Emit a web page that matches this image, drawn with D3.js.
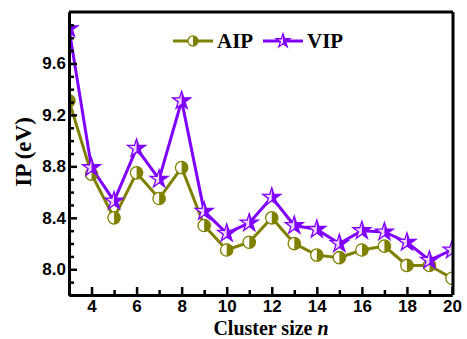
<!DOCTYPE html>
<html>
<head>
<meta charset="utf-8">
<script src="https://cdn.jsdelivr.net/npm/d3@7"></script>
<style>
  body { margin: 0; background: #fff; }
  svg { display: block; }
</style>
</head>
<body>
<script>
const w = 467; // width
const h = 339; // height
const m = {top: 12, right: 14, bottom: 44, left: 69};

// data
const sizes = [3, 4, 5, 6, 7, 8, 9, 10, 11, 12, 13, 14, 15, 16, 17, 18, 19, 20];
const aip = [9.31, 8.74, 8.40, 8.75, 8.55, 8.79, 8.34, 8.15, 8.21, 8.40, 8.20, 8.11, 8.09, 8.15, 8.18, 8.03, 8.03, 7.93];
const vip = [9.87, 8.79, 8.53, 8.94, 8.70, 9.31, 8.45, 8.28, 8.36, 8.56, 8.34, 8.31, 8.20, 8.30, 8.29, 8.21, 8.07, 8.15];
const xTicks = [4, 6, 8, 10, 12, 14, 16, 18, 20];
const yTicks = [8.0, 8.4, 8.8, 9.2, 9.6];

const olive = "#808000";
const purple = "#8000ff";

let svg = d3.select("body")
    .append("svg")
    .attr("width", w)
    .attr("height", h);

let defs = svg.append("defs");
defs.append("clipPath").attr("id", "plot")
    .append("rect")
    .attr("x", m.left).attr("y", m.top)
    .attr("width", w - m.left - m.right)
    .attr("height", h - m.top - m.bottom);
defs.append("clipPath").attr("id", "leftHalf")
    .append("rect")
    .attr("x", -20).attr("y", -20).attr("width", 20).attr("height", 40);

let x = d3.scaleLinear()
    .domain([3, 20])
    .range([m.left, w - m.right - 1]);

let y = d3.scaleLinear()
    .domain([7.8, 10.0])
    .range([h - m.bottom, m.top]);

const series = [
    {name: "AIP", values: aip, color: olive, shape: d3.symbolCircle, size: 120, legendSize: 80, light: "#ffffff"},
    {name: "VIP", values: vip, color: purple, shape: d3.symbolStar, size: 100, legendSize: 60, light: "#f0d8ff"}
];

// draw a half-filled marker (left half light)
function marker(g, s, size) {
    let p = d3.symbol(s.shape, size)();
    g.append("path").attr("d", p).attr("fill", s.color);
    g.append("path").attr("d", p).attr("fill", s.light).attr("clip-path", "url(#leftHalf)");
    g.append("path").attr("d", p).attr("fill", "none").attr("stroke", s.color).attr("stroke-width", 1.3);
}

let plot = svg.append("g").attr("clip-path", "url(#plot)");

series.forEach((s) => {
    let line = d3.line()
        .x((d, i) => x(sizes[i]))
        .y((d) => y(d));

    plot.append("path")
        .datum(s.values)
        .attr("fill", "none")
        .attr("stroke", s.color)
        .attr("stroke-width", 3)
        .attr("d", line);
});

series.forEach((s) => {
    plot.selectAll(null)
        .data(s.values)
        .enter()
        .append("g")
        .attr("transform", (d, i) => `translate(${x(sizes[i])},${y(d)})`)
        .each(function () { marker(d3.select(this), s, s.size); });
});

// x axis, ticks pointing inward
svg.append("g")
    .attr("transform", `translate(0,${h - m.bottom})`)
    .call(d3.axisBottom(x).tickValues(xTicks).tickFormat(d3.format("d")).tickSizeInner(-8).tickSizeOuter(0).tickPadding(5));
svg.append("g")
    .attr("transform", `translate(0,${h - m.bottom})`)
    .call(d3.axisBottom(x).tickValues(d3.range(3, 20, 2)).tickFormat("").tickSizeInner(-5).tickSizeOuter(0));

// y axis
svg.append("g")
    .attr("transform", `translate(${m.left},0)`)
    .call(d3.axisLeft(y).tickValues(yTicks).tickFormat(d3.format(".1f")).tickSizeInner(-8).tickSizeOuter(0).tickPadding(3));
let minorY = d3.range(79, 100).map((v) => v / 10).filter((v) => Math.round(v * 10) % 4 !== 0);
svg.append("g")
    .attr("transform", `translate(${m.left},0)`)
    .call(d3.axisLeft(y).tickValues(minorY).tickFormat("").tickSizeInner(-5).tickSizeOuter(0));

svg.selectAll(".tick line").attr("stroke", "#000").attr("stroke-width", 2.5);
svg.selectAll(".domain").attr("stroke", "#000").attr("stroke-width", 3);
svg.selectAll(".tick text")
    .attr("font-family", "Liberation Sans, Arial, sans-serif")
    .attr("font-weight", "bold")
    .attr("font-size", 17)
    .attr("fill", "#000");

// top and right edges of the frame
svg.append("line")
    .attr("x1", m.left).attr("x2", w - m.right)
    .attr("y1", m.top).attr("y2", m.top)
    .attr("stroke", "#000").attr("stroke-width", 3);
svg.append("line")
    .attr("x1", w - m.right).attr("x2", w - m.right)
    .attr("y1", m.top).attr("y2", h - m.bottom)
    .attr("stroke", "#000").attr("stroke-width", 3);

// axis labels
let xl = svg.append("text")
    .attr("x", 271)
    .attr("y", 335)
    .attr("text-anchor", "middle")
    .attr("font-family", "Liberation Serif, Times New Roman, serif")
    .attr("font-weight", "bold")
    .attr("font-size", 20);
xl.append("tspan").text("Cluster size ");
xl.append("tspan").attr("font-style", "italic").text("n");

svg.append("text")
    .attr("transform", "rotate(-90)")
    .attr("x", -152)
    .attr("y", 31)
    .attr("text-anchor", "middle")
    .attr("font-family", "Liberation Serif, Times New Roman, serif")
    .attr("font-weight", "bold")
    .attr("font-size", 23)
    .text("IP (eV)");

// legend
let legend = svg.append("g");
series.forEach((s, i) => {
    let lx = 173 + i * 90;
    let ly = 41;
    legend.append("line")
        .attr("x1", lx).attr("x2", lx + 40)
        .attr("y1", ly).attr("y2", ly)
        .attr("stroke", s.color).attr("stroke-width", 3);
    let g = legend.append("g").attr("transform", `translate(${lx + 20},${ly})`);
    marker(g, s, s.legendSize);
    legend.append("text")
        .attr("x", lx + 44)
        .attr("y", ly + 7)
        .attr("font-family", "Liberation Serif, Times New Roman, serif")
        .attr("font-weight", "bold")
        .attr("font-size", 21)
        .text(s.name);
});
</script>
</body>
</html>
